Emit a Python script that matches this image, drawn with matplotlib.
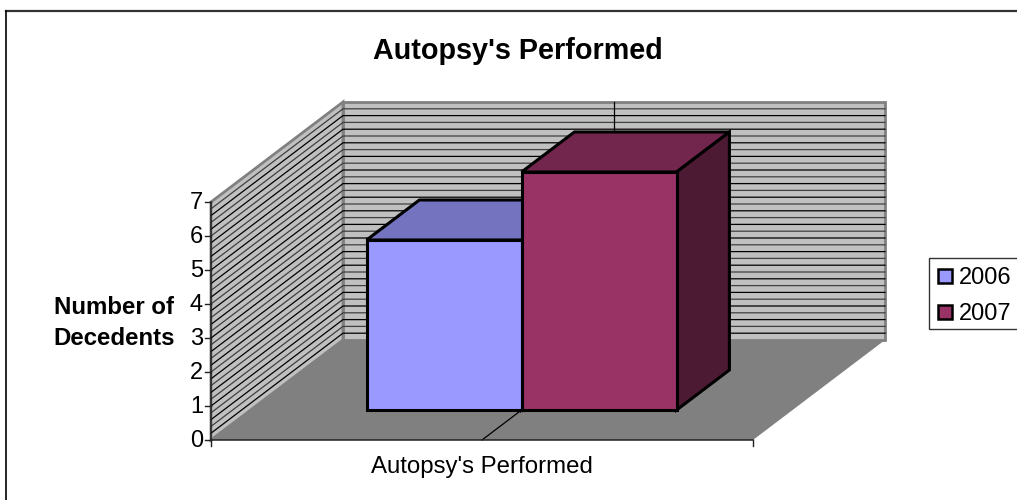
import matplotlib
matplotlib.use('Agg')
import matplotlib.pyplot as plt
import matplotlib.patches as patches

plt.rcParams['font.family'] = ['Liberation Sans', 'DejaVu Sans']

title = "Autopsy's Performed"
category = "Autopsy's Performed"
years = ['2006', '2007']
decedents = [5, 7]
y_ticks = [0, 1, 2, 3, 4, 5, 6, 7]
y_label = 'Number of\nDecedents'
grid_step = 0.2

front_colors = ['#9999ff', '#993366']
top_colors = ['#7373bf', '#73264d']
side_colors = ['#4d4d80', '#4d1a33']

# projection of the 3d box to pixels
X0, X1 = 211, 753
Y0, UNIT = 440, 34.0
DX, DY = 132, 100
GAP = 0.214
DEPTH_FRONT, DEPTH_BACK = 0.3, 0.7


def pt(x, v, d):
    # x: 0-1 along category axis, v: value, d: 0-1 depth
    return (X0 + x * (X1 - X0) + d * DX, Y0 - v * UNIT - d * DY)


def poly(points, fc, ec='none', lw=0, z=1):
    ax.add_patch(patches.Polygon(points, closed=True, facecolor=fc, edgecolor=ec,
                                 linewidth=lw, joinstyle='miter', zorder=z))


fig = plt.figure(figsize=(10.17, 5.0), dpi=100)
ax = fig.add_axes([0, 0, 1, 1])
ax.set_xlim(0, 1017)
ax.set_ylim(500, 0)
ax.axis('off')

# chart frame, only top and left show in the crop
ax.plot([6, 1017], [11, 11], color='#333333', lw=1.6, zorder=1)
ax.plot([6, 6], [11, 500], color='black', lw=1.2, zorder=1)

vmax = y_ticks[-1]

# walls and floor
poly([pt(0, 0, 0), pt(0, vmax, 0), pt(0, vmax, 1), pt(0, 0, 1)], '#c0c0c0', '#808080', 2, 2)
poly([pt(0, 0, 1), pt(0, vmax, 1), pt(1, vmax, 1), pt(1, 0, 1)], '#c0c0c0', '#808080', 2, 2)
poly([pt(0, 0, 0), pt(1, 0, 0), pt(1, 0, 1), pt(0, 0, 1)], '#808080', 'none', 0, 3)

# gridlines every 0.2
n = int(round(vmax / grid_step))
for i in range(1, n):
    v = i * grid_step
    a, b, c = pt(0, v, 0), pt(0, v, 1), pt(1, v, 1)
    shade = 'black' if i % 2 else '#404040'
    ax.plot([a[0], b[0], c[0]], [a[1], b[1], c[1]], color=shade, lw=0.9, zorder=2.5,
            solid_joinstyle='miter')

# category divider on wall and floor
a, b, c = pt(0.5, vmax, 1), pt(0.5, 0, 1), pt(0.5, 0, 0)
ax.plot([a[0], b[0]], [a[1], b[1]], color='black', lw=0.9, zorder=2.6)
ax.plot([b[0], c[0]], [b[1], c[1]], color='black', lw=0.9, zorder=3.1)

# axes lines and ticks
p0, p7 = pt(0, 0, 0), pt(0, vmax, 0)
ax.plot([p0[0], p7[0]], [p0[1], p7[1]], color='#222222', lw=1.1, zorder=4)
ax.plot([p0[0], pt(1, 0, 0)[0]], [p0[1], p0[1]], color='#222222', lw=1.1, zorder=4)
for t in y_ticks:
    p = pt(0, t, 0)
    ax.plot([p[0] - 6, p[0]], [p[1], p[1]], color='#222222', lw=1.0, zorder=4)
    ax.text(p[0] - 8, p[1] + 1, str(t), ha='right', va='center', fontsize=17, color='black')
for x in [0, 1]:
    p = pt(x, 0, 0)
    ax.plot([p[0], p[0]], [p[1], p[1] + 6], color='#222222', lw=1.0, zorder=4)

# bars
bar_w = (1 - 2 * GAP) / len(decedents)
for i, val in enumerate(decedents):
    x0 = GAP + i * bar_w
    x1 = x0 + bar_w
    z = 5 + i
    poly([pt(x0, val, DEPTH_FRONT), pt(x1, val, DEPTH_FRONT), pt(x1, val, DEPTH_BACK), pt(x0, val, DEPTH_BACK)],
         top_colors[i], 'black', 2.2, z)
    poly([pt(x1, 0, DEPTH_FRONT), pt(x1, val, DEPTH_FRONT), pt(x1, val, DEPTH_BACK), pt(x1, 0, DEPTH_BACK)],
         side_colors[i], 'black', 2.2, z)
    poly([pt(x0, 0, DEPTH_FRONT), pt(x1, 0, DEPTH_FRONT), pt(x1, val, DEPTH_FRONT), pt(x0, val, DEPTH_FRONT)],
         front_colors[i], 'black', 2.2, z)

# texts
ax.text(518, 51, title, ha='center', va='center', fontsize=20.7, fontweight='bold')
ax.text(482, 467.5, category, ha='center', va='center', fontsize=17.3)
ax.text(114, 323, y_label, ha='center', va='center', fontsize=17.3, fontweight='bold', linespacing=1.45)

# legend
ax.add_patch(patches.Rectangle((929, 258), 95, 71, facecolor='white', edgecolor='#333333', lw=1, zorder=4))
for i, yr in enumerate(years):
    yy = 276 + i * 36
    ax.add_patch(patches.Rectangle((938, yy - 7), 14, 14, facecolor=front_colors[i],
                                   edgecolor='black', lw=1.8, zorder=5))
    ax.text(959, yy + 1.5, yr, ha='left', va='center', fontsize=17, zorder=5)

fig.savefig('out.png', dpi=100)
